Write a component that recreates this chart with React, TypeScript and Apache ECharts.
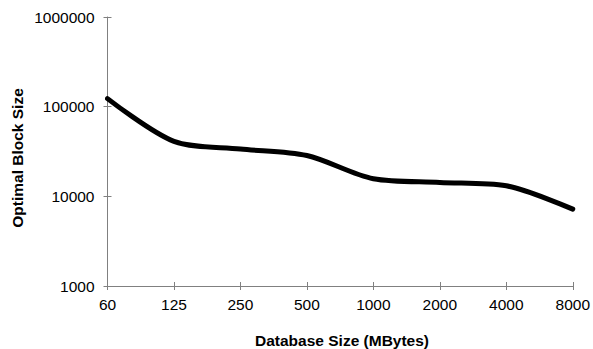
import React, { useEffect, useRef } from "react";
import * as echarts from "echarts";

const categories = ["60", "125", "250", "500", "1000", "2000", "4000", "8000"];
const blockSize = [123000, 41000, 33700, 28500, 15700, 14300, 13100, 7200];
const yMin = 1000;
const yMax = 1000000;

const FONT = "'Liberation Sans', Arial, sans-serif";

export default function App() {
  const ref = useRef<HTMLDivElement>(null);
  useEffect(() => {
    if (!ref.current) return;
    const chart = echarts.init(ref.current, undefined, { renderer: "svg" });
    const axisLine = { show: true, lineStyle: { color: "#808080", width: 1 } };
    chart.setOption({
      animation: false,
      backgroundColor: "#ffffff",
      grid: { left: 107.5, right: 17, top: 17, bottom: 63, containLabel: false },
      xAxis: [
        {
          type: "category",
          data: categories,
          boundaryGap: false,
          axisLine,
          axisTick: { show: true, alignWithLabel: true, length: 4, lineStyle: { color: "#808080" } },
          axisLabel: { color: "#000", fontSize: 15.5, fontFamily: FONT, margin: 10 },
          splitLine: { show: false },
        },
        {
          type: "category",
          data: categories,
          boundaryGap: false,
          position: "bottom",
          axisLine: { show: false },
          axisTick: { show: true, inside: true, length: 4, lineStyle: { color: "#808080" } },
          axisLabel: { show: false },
          splitLine: { show: false },
        },
      ],
      yAxis: [
        {
          type: "log",
          logBase: 10,
          min: yMin,
          max: yMax,
          axisLine,
          axisTick: { show: true, length: 4, lineStyle: { color: "#808080" } },
          axisLabel: {
            color: "#000",
            fontSize: 15.5,
            fontFamily: FONT,
            margin: 13,
            formatter: (v: number) => String(Math.round(v)),
          },
          splitLine: { show: false },
        },
        {
          type: "log",
          logBase: 10,
          min: yMin,
          max: yMax,
          position: "left",
          axisLine: { show: false },
          axisTick: { show: true, inside: true, length: 4, lineStyle: { color: "#808080" } },
          axisLabel: { show: false },
          splitLine: { show: false },
        },
      ],
      series: [
        {
          type: "line",
          data: blockSize,
          smooth: 0.3,
          symbol: "none",
          lineStyle: { color: "#000", width: 5, cap: "round", join: "round" },
          xAxisIndex: 0,
          yAxisIndex: 0,
        },
      ],
      graphic: [
        {
          type: "text",
          x: 17,
          y: 158,
          rotation: Math.PI / 2,
          style: {
            text: "Optimal Block Size",
            fontSize: 15.5,
            fontWeight: "bold",
            fontFamily: FONT,
            fill: "#000",
            align: "center",
            verticalAlign: "middle",
          },
        },
        {
          type: "text",
          x: 342,
          y: 340,
          style: {
            text: "Database Size (MBytes)",
            fontSize: 15.5,
            fontWeight: "bold",
            fontFamily: FONT,
            fill: "#000",
            align: "center",
            verticalAlign: "middle",
          },
        },
      ],
    });
    return () => chart.dispose();
  }, []);
  return <div ref={ref} style={{ width: 593, height: 349, position: "absolute", left: 0, top: 0 }} />;
}
